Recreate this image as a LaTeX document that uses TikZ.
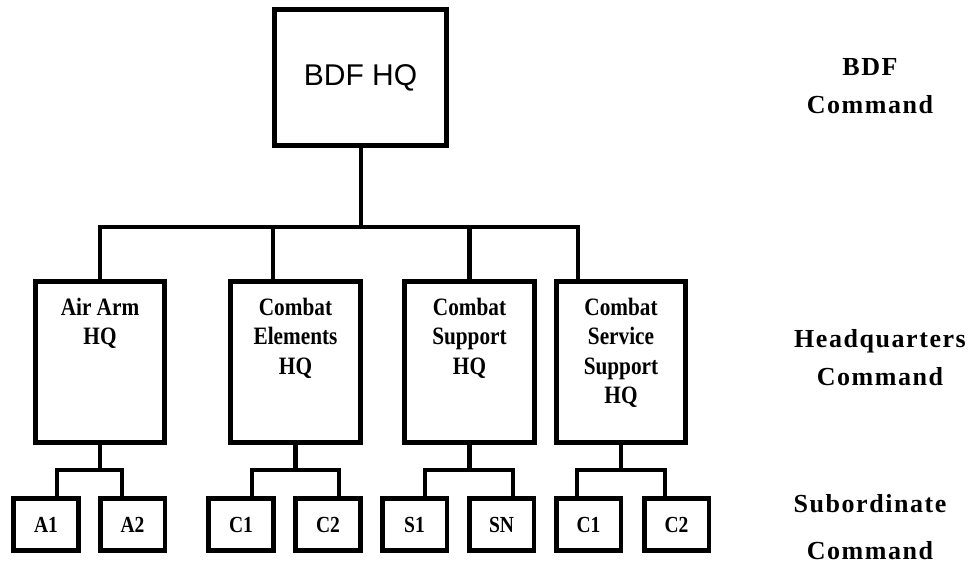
\documentclass[tikz,border=0pt]{standalone}
\usepackage{fontspec}
\setmainfont{Liberation Serif}
\newfontfamily\boxfont[FakeStretch=0.85]{Liberation Serif}
\newfontfamily\hqsans{Liberation Sans}
\newfontfamily\sidefont[LetterSpace=6]{Liberation Serif}
\begin{document}
\begin{tikzpicture}[x=1pt,y=-1pt,
  lw/.style={line width=4.8pt},
  conn/.style={lw, line join=miter, line cap=rect},
  topbox/.style={draw, lw, inner sep=0pt, minimum width=172.2pt, minimum height=136.2pt,
    font=\hqsans\fontsize{30}{36}\selectfont},
  hqbox/.style={draw, lw, inner sep=0pt, minimum width=129.6pt, minimum height=161.2pt},
  subbox/.style={draw, lw, inner sep=0pt, minimum width=64.8pt, minimum height=52.2pt,
    font=\boxfont\bfseries\fontsize{23}{27}\selectfont},
  hqtext/.style={anchor=north, inner sep=0pt, align=center,
    font=\boxfont\bfseries\fontsize{25}{29.5}\selectfont},
  side/.style={align=center, inner sep=0pt, font=\sidefont\bfseries\fontsize{26}{38}\selectfont}]
\useasboundingbox (0,0) rectangle (972,564);

% top
\node[topbox] (bdf) at (360.5,77.5) {BDF HQ};

% headquarters boxes
\node[hqbox] (air) at (100,362) {};
\node[hqbox] (ce)  at (295.5,362) {};
\node[hqbox] (cs)  at (469.5,362) {};
\node[hqbox] (css) at (621,362) {};

\node[hqtext] (airt) at (100,297.5) {Air Arm\\HQ};
\node[hqtext] (cet)  at (295.5,297.5) {Combat\\Elements\\HQ};
\node[hqtext] (cst)  at (469.5,297.5) {Combat\\Support\\HQ};
\node[hqtext] (csst) at (621,297.5) {Combat\\Service\\Support\\HQ};

% subordinate boxes
\node[subbox] (a1) at (46,524.5) {A1};
\node[subbox] (a2) at (132.5,524.5) {A2};
\node[subbox] (c1) at (241,524.5) {C1};
\node[subbox] (c2) at (328,524.5) {C2};
\node[subbox] (s1) at (414.5,524.5) {S1};
\node[subbox] (sn) at (501.5,524.5) {SN};
\node[subbox] (d1) at (588.5,524.5) {C1};
\node[subbox] (d2) at (676.5,524.5) {C2};

% side labels
\node[side] (lbdf) at (870,86.5) {BDF\\Command};
\node[side] (lhq)  at (880,358) {Headquarters\\Command};
\node[side] (lsub) at (870,527) {Subordinate\\[9pt]Command};

% junction coordinates
\coordinate (j) at (361,227);
\coordinate (xce) at (273,0);
\coordinate (xcss) at (578,0);
\coordinate (ybar) at (0,470);
\coordinate (xa1) at (57,0);
\coordinate (xa2) at (122,0);
\coordinate (xc1) at (252,0);
\coordinate (xc2) at (339,0);
\coordinate (xs1) at (425,0);
\coordinate (xs2) at (513,0);
\coordinate (xd1) at (577,0);
\coordinate (xd2) at (665,0);

% top connectors
\draw[conn] (bdf.south -| j) -- (j);
\draw[conn] (air.north) |- (j) -| (css.north -| xcss);
\draw[conn] (ce.north -| xce) -- (j -| xce);
\draw[conn] (cs.north) -- (j -| cs.north);

% lower connectors
\draw[conn] (air.south) -- (air.south |- ybar);
\draw[conn] (a1.north -| xa1) |- (ybar -| air.south) -| (a2.north -| xa2);
\draw[conn] (ce.south) -- (ce.south |- ybar);
\draw[conn] (c1.north -| xc1) |- (ybar -| ce.south) -| (c2.north -| xc2);
\draw[conn] (cs.south) -- (cs.south |- ybar);
\draw[conn] (s1.north -| xs1) |- (ybar -| cs.south) -| (sn.north -| xs2);
\draw[conn] (css.south) -- (css.south |- ybar);
\draw[conn] (d1.north -| xd1) |- (ybar -| css.south) -| (d2.north -| xd2);
\end{tikzpicture}
\end{document}
